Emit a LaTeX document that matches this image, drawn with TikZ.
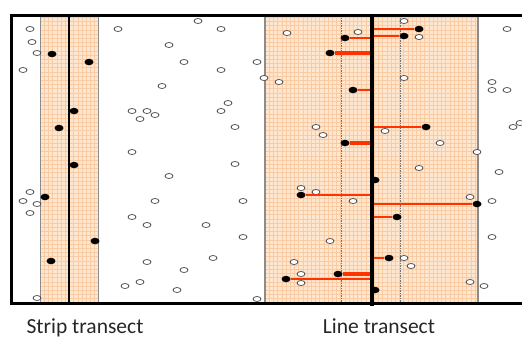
\documentclass[tikz,border=0pt]{standalone}
\usepackage{fontspec}
\setmainfont{Carlito}
\usetikzlibrary{shapes.geometric}
\definecolor{peach}{HTML}{FFE6CF}
\definecolor{gridor}{HTML}{F8CBA4}
\definecolor{sightred}{HTML}{FF3300}

\begin{document}
\begin{tikzpicture}[
  x=1pt, y=-1pt,
  band/.style={fill=peach},
  bandgrid/.style={draw=gridor, line width=0.35pt},
  bandedge/.style={draw=black!45, line width=1.4pt},
  frame/.style={draw=black, line width=3pt},
  transect/.style={draw=black, line width=2.6pt},
  halfw/.style={draw=black!55, line width=0.5pt, dash pattern=on 1.5pt off 1pt},
  seen/.style={ellipse, fill=black, inner sep=0pt, minimum width=9pt, minimum height=6.5pt},
  unseen/.style={ellipse, draw=black!75, fill=white, line width=0.7pt, inner sep=0pt, minimum width=8pt, minimum height=5pt},
  sight/.style={draw=sightred},
  lab/.style={anchor=base, text=black!85, font=\fontsize{21.5}{24}\selectfont}
]
\useasboundingbox (0,0) rectangle (522,338);

% shaded bands
\fill[band] (40,15) rectangle (98,303);
\fill[band] (265,15) rectangle (478,303);
\foreach \g in {17.2,21.4,...,303}
  \draw[bandgrid] (40,\g) -- (98,\g) (265,\g) -- (478,\g);
\foreach \g in {44.2,48.4,...,98}
  \draw[bandgrid] (\g,15) -- (\g,303);
\foreach \g in {269.2,273.4,...,478}
  \draw[bandgrid] (\g,15) -- (\g,303);
\draw[draw=black!45, line width=0.6pt] (40,15) -- (40,303) (98,15) -- (98,303);
\draw[bandedge] (265,15) -- (265,303) (478,15) -- (478,303);
\draw[halfw] (341,15) -- (341,303) (400,15) -- (400,303);

% frame
\draw[frame] (522,15) -- (11,15) -- (11,303) -- (522,303);

% animals not detected
\foreach \x/\y [count=\i] in {30/29, 32/42, 37/53, 23/70, 30/192, 23/201, 37/204, 30/213, 37/298,
  118/29, 198/21, 221/29, 169/45, 184/62, 257/62, 221/70, 162/86, 228/103, 132/111, 147/111,
  155/115, 140/119, 221/111, 235/127, 132/152, 235/164, 169/176, 155/201, 243/201, 132/217,
  147/225, 206/225, 243/237, 147/262, 213/258, 184/270, 140/282, 125/286, 177/290, 257/299,
  287/33, 358/32, 264/78, 279/82, 316/127, 323/135, 385/131, 404/21, 404/78, 440/143,
  477/152, 419/168, 470/197, 404/258, 411/266, 470/282, 301/188, 316/192, 353/201, 330/241,
  294/262, 301/274, 301/283, 419/37, 507/29, 492/82, 492/90, 507/90, 513/127, 520/123,
  499/172, 492/201, 492/237, 484/286}
  \node[unseen] (u\i) at (\x,\y) {};

% strip transect
\node[seen] (s1) at (52,54) {};
\node[seen] (s2) at (89,62) {};
\node[seen] (s3) at (74,111) {};
\node[seen] (s4) at (59,128) {};
\node[seen] (s5) at (74,165) {};
\node[seen] (s6) at (45,197) {};
\node[seen] (s7) at (95,241) {};
\node[seen] (s8) at (51,261) {};
\draw[transect] (69,15) -- (69,303);

% line transect
\coordinate (lc) at (372,15);
\foreach \x/\y [count=\i] in {345/38, 330/53, 353/90, 345/143, 419/29, 404/36, 426/127,
  301/195, 477/204, 397/217, 389/258, 338/274, 286/279, 375/180, 375/290}
  \node[seen] (l\i) at (\x,\y) {};
\foreach \i/\w in {1/2.8, 2/3.8, 3/1.7, 4/3.4, 5/2.4, 6/2, 7/2, 8/2.6, 9/2.6, 10/2.6, 11/1.7, 12/4, 13/2.6}
  \draw[sight, line width=\w pt] (l\i) -- (l\i -| lc);
\draw[transect, line width=4pt] (lc) -- (372,306);

\node[lab] (striplab) at (85,333) {Strip transect};
\node[lab] (linelab) at (379,333) {Line transect};
\end{tikzpicture}
\end{document}
